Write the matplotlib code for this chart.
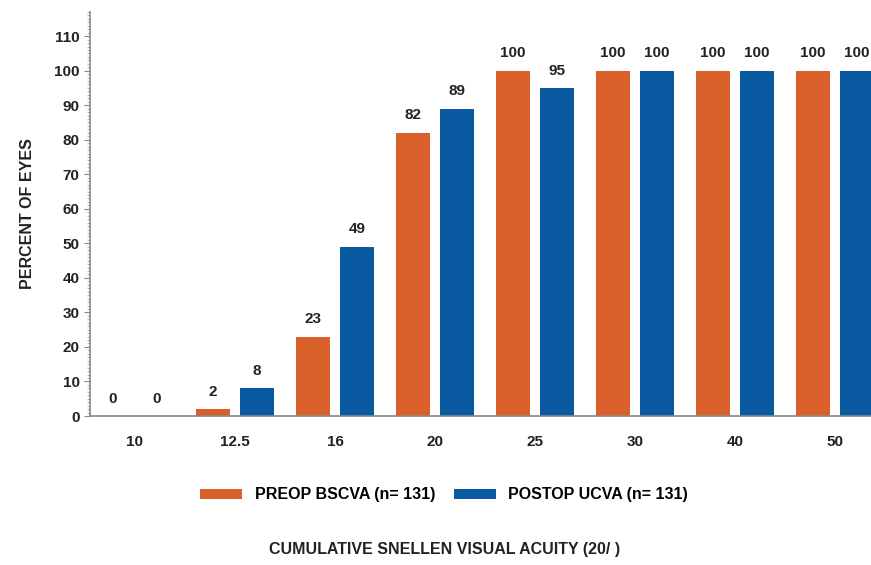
import numpy as np
import matplotlib.pyplot as plt
from matplotlib.ticker import MultipleLocator

acuity = ['10', '12.5', '16', '20', '25', '30', '40', '50']
preop = [0, 2, 23, 82, 100, 100, 100, 100]
postop = [0, 8, 49, 89, 95, 100, 100, 100]

plt.rcParams['font.family'] = ['Liberation Sans Narrow', 'Liberation Sans', 'DejaVu Sans']
orange = '#d95f2b'
blue = '#0a5aa2'
grey = '#888888'

fig = plt.figure(figsize=(8.71, 5.65), dpi=100)
ax = fig.add_axes([0.1033, 0.2637, 0.8967, 0.7151])

x = np.arange(len(acuity))
w = 0.335
off = 0.22
b1 = ax.bar(x - off, preop, w, color=orange, label='PREOP BSCVA (n= 131)')
b2 = ax.bar(x + off, postop, w, color=blue, label='POSTOP UCVA (n= 131)')

for bars, vals in ((b1, preop), (b2, postop)):
    for r, v in zip(bars, vals):
        ax.text(r.get_x() + r.get_width() / 2, v + 3, str(v), ha='center', va='bottom',
                fontsize=11, fontweight='bold', color='#222222')

ax.set_xlim(-0.45, 7.36)
ax.set_ylim(0, 117)
ax.set_xticks(x)
ax.set_xticklabels(acuity)
ax.yaxis.set_major_locator(MultipleLocator(10))
ax.yaxis.set_minor_locator(MultipleLocator(1))
ax.tick_params(axis='x', length=0, pad=14, labelsize=11)
ax.tick_params(axis='y', which='major', length=4, color=grey, labelsize=11)
ax.tick_params(axis='y', which='minor', length=2, color='#aaaaaa')
for lab in ax.get_xticklabels() + ax.get_yticklabels():
    lab.set_fontweight('bold')
    lab.set_color('#222222')

for s in ('top', 'right'):
    ax.spines[s].set_visible(False)
ax.spines['left'].set_color(grey)
ax.spines['bottom'].set_color(grey)
ax.spines['left'].set_linewidth(1.2)
ax.spines['bottom'].set_linewidth(1.2)

ax.set_ylabel('PERCENT OF EYES', fontsize=11.5, fontweight='bold', color='#222222', labelpad=14)

fig.legend(handles=[b1, b2], loc='center', bbox_to_anchor=(0.51, 0.124), ncol=2,
           frameon=False, handlelength=2.6, handleheight=0.6,
           columnspacing=1.2, prop={'weight': 'bold', 'size': 11.5})
fig.text(0.51, 0.027, 'CUMULATIVE SNELLEN VISUAL ACUITY (20/ )', ha='center', va='center',
         fontsize=11.5, fontweight='bold', color='#222222')

fig.savefig('out.png', dpi=100)
